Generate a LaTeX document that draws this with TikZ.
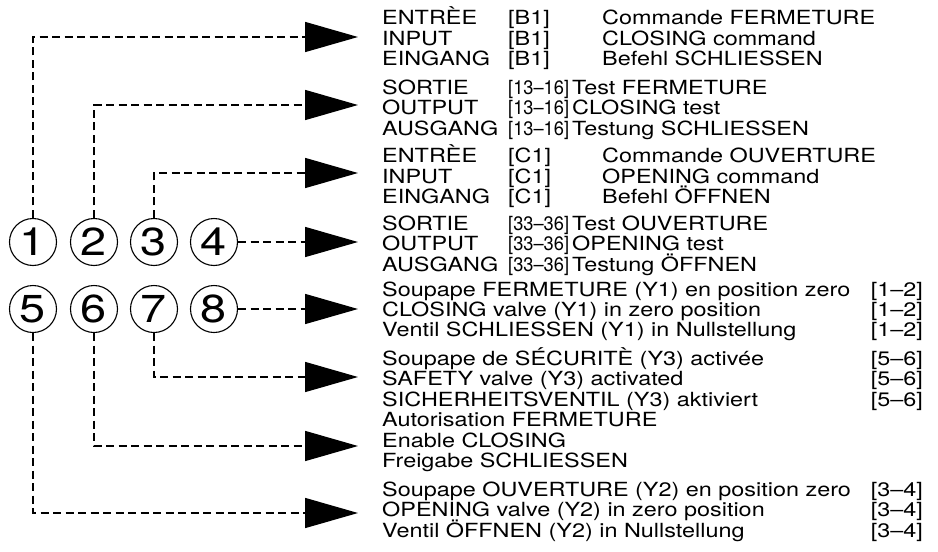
\documentclass[tikz,border=0pt]{standalone}
\usepackage{fontspec}
\setmainfont{TeX Gyre Heros}[FakeStretch=1.2]
\usetikzlibrary{arrows.meta}
\newcommand\tricol[6]{%
  \node[lbl] (#1a) at (382,#2) {#3};
  \node[lbl] (#1b) at (508,#2) {#4};
  \node[lbl] (#1c) at (#5,#2) {#6};}
\newcommand\duocol[4]{%
  \node[lbl] (#1a) at (382,#2) {#3};
  \node[rlbl] (#1b) at (923,#2) {#4};}
\newcommand\unocol[3]{%
  \node[lbl] (#1a) at (382,#2) {#3};}
\newcommand\narrow[1]{\scalebox{0.78}[1]{#1}}
\begin{document}
\begin{tikzpicture}[x=1pt,y=-1pt,
  lbl/.style={inner sep=0pt, anchor=base west, font=\fontsize{19.5}{20.5}\selectfont},
  rlbl/.style={lbl, anchor=base east},
  num/.style={circle, draw, line width=1.1pt, minimum size=47pt, inner sep=0pt,
              font=\fontsize{39}{39}\selectfont},
  conn/.style={line width=1.5pt, dash pattern=on 8pt off 4.5pt,
               -{Triangle[length=53pt,width=30pt]}}]
\useasboundingbox (0,0) rectangle (938,552);

% numbered circles
\node[num] (n1) at (33,242) {1};
\node[num] (n2) at (94,242) {2};
\node[num] (n3) at (154,242) {3};
\node[num] (n4) at (214,242) {4};
\node[num] (n5) at (33,309) {5};
\node[num] (n6) at (94,309) {6};
\node[num] (n7) at (154,309) {7};
\node[num] (n8) at (214,309) {8};

% arrow tips
\coordinate (t1) at (358,37);
\coordinate (t2) at (358,105);
\coordinate (t3) at (358,173);
\coordinate (t4) at (358,242);
\coordinate (t8) at (358,309);
\coordinate (t7) at (358,377);
\coordinate (t6) at (358,446);
\coordinate (t5) at (358,513);

% connectors
\draw[conn] (n1.north) |- (t1);
\draw[conn] (n2.north) |- (t2);
\draw[conn] (n3.north) |- (t3);
\draw[conn] (n4.east) -- (t4);
\draw[conn] (n8.east) -- (t8);
\draw[conn] (n7.south) |- (t7);
\draw[conn] (n6.south) |- (t6);
\draw[conn] (n5.south) |- (t5);

% texts
\tricol{ga}{24}{ENTRÈE}{[B1]}{602}{Commande FERMETURE}
\tricol{gb}{45}{INPUT}{[B1]}{602}{CLOSING command}
\tricol{gc}{65}{EINGANG}{[B1]}{602}{Befehl SCHLIESSEN}

\tricol{ha}{94}{SORTIE}{\narrow{[13–16]}}{572}{Test FERMETURE}
\tricol{hb}{114}{OUTPUT}{\narrow{[13–16]}}{572}{CLOSING test}
\tricol{hc}{135}{AUSGANG}{\narrow{[13–16]}}{572}{Testung SCHLIESSEN}

\tricol{ia}{162}{ENTRÈE}{[C1]}{602}{Commande OUVERTURE}
\tricol{ib}{183}{INPUT}{[C1]}{602}{OPENING command}
\tricol{ic}{203}{EINGANG}{[C1]}{602}{Befehl ÖFFNEN}

\tricol{ja}{230}{SORTIE}{\narrow{[33–36]}}{572}{Test OUVERTURE}
\tricol{jb}{250}{OUTPUT}{\narrow{[33–36]}}{572}{OPENING test}
\tricol{jc}{271}{AUSGANG}{\narrow{[33–36]}}{572}{Testung ÖFFNEN}

\duocol{ka}{296}{Soupape FERMETURE (Y1) en position zero}{[1–2]}
\duocol{kb}{316}{CLOSING valve (Y1) in zero position}{[1–2]}
\duocol{kc}{336}{Ventil SCHLIESSEN (Y1) in Nullstellung}{[1–2]}

\duocol{la}{365}{Soupape de SÉCURITÈ (Y3) activée}{[5–6]}
\duocol{lb}{385}{SAFETY valve (Y3) activated}{[5–6]}
\duocol{lc}{406}{SICHERHEITSVENTIL (Y3) aktiviert}{[5–6]}

\unocol{ma}{426}{Autorisation FERMETURE}
\unocol{mb}{447}{Enable CLOSING}
\unocol{mc}{467}{Freigabe SCHLIESSEN}

\duocol{oa}{496}{Soupape OUVERTURE (Y2) en position zero}{[3–4]}
\duocol{ob}{516}{OPENING valve (Y2) in zero position}{[3–4]}
\duocol{oc}{537}{Ventil ÖFFNEN (Y2) in Nullstellung}{[3–4]}
\end{tikzpicture}
\end{document}
